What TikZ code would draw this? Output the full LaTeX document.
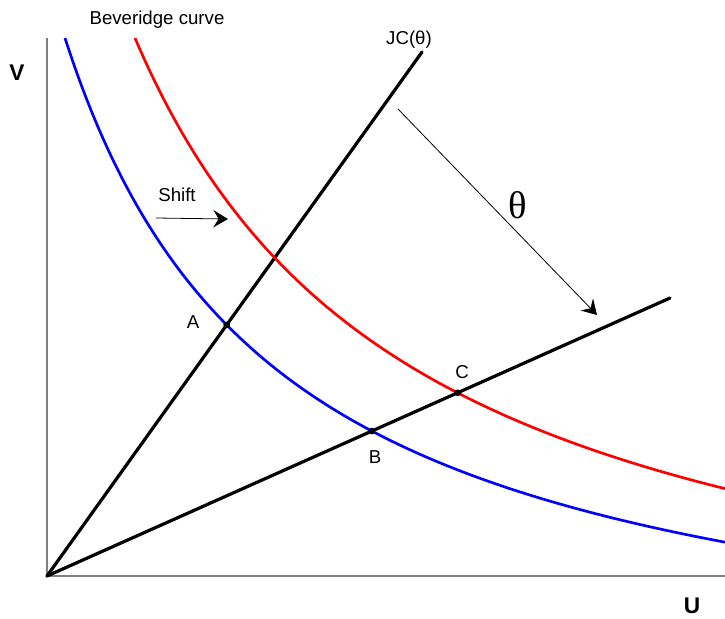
\documentclass[tikz,border=0pt]{standalone}
\usepackage{fontspec}
\setmainfont{Liberation Sans}
\newfontfamily\thetafont{Liberation Serif}
\usetikzlibrary{arrows.meta,intersections}

\definecolor{axisgray}{RGB}{128,128,128}

\tikzset{
    axis/.style={draw=axisgray, line width=1.5pt},
    ray/.style={line width=2.4pt, line cap=round},
    beveridge/.style={line width=2pt},
    thinarrow/.style={line width=0.6pt, -{Stealth[length=11pt,width=13pt,inset=4pt]}},
    dot/.style={circle, fill=black, inner sep=0pt, minimum size=5pt},
    lbl/.style={font=\fontsize{14}{16}\selectfont, inner sep=0pt},
    axlbl/.style={font=\fontsize{17}{20}\selectfont\bfseries, inner sep=0pt},
}

\begin{document}
\begin{tikzpicture}[x=0.75pt, y=-0.75pt]
    \useasboundingbox (0,0) rectangle (725,618);
    
    % axes
    \coordinate (O) at (47,576);
    \coordinate (vtop) at (47,38);
    \coordinate (uend) at (725,576);
    \draw[axis] (vtop) |- (uend);
    
    % job creation lines
    \coordinate (jcend) at (422,52);
    \coordinate (lowend) at (670,298);
    \draw[ray, name path=jc] (O) -- (jcend);
    \draw[ray, name path=low] (O) -- (lowend);
    
    % Beveridge curves
    \draw[beveridge, blue, name path=bluecurve]
        plot[domain=65:725, samples=120, smooth] (\x, {706.4-1437/((\x+150)/100)});
    \draw[beveridge, red, name path=redcurve]
        plot[domain=135:725, samples=120, smooth] (\x, {706.3-1904.51/((\x+150)/100)});
    
    % equilibria
    \path[name intersections={of=jc and bluecurve, by=A}];
    \path[name intersections={of=low and bluecurve, by=B}];
    \path[name intersections={of=low and redcurve, by=C}];
    \node[dot] (dotA) at (A) {};
    \node[dot] (dotB) at (B) {};
    \node[dot] (dotC) at (C) {};
    
    % arrows
    \coordinate (shiftstart) at (156,218);
    \coordinate (shiftend) at (228,219);
    \draw[thinarrow] (shiftstart) -- (shiftend);
    \coordinate (thetastart) at (398,109);
    \coordinate (thetaend) at (597,315);
    \draw[thinarrow] (thetastart) -- (thetaend);
    
    % labels
    \node[lbl] (labBev) at (157,20) {Beveridge curve};
    \node[lbl] (labJC) at (409,40) {JC(θ)};
    \node[lbl] (labShift) at (177,195) {Shift};
    \node[lbl] (labA) at (193,322) {A};
    \node[lbl] (labB) at (375,457) {B};
    \node[lbl] (labC) at (462,372) {C};
    \node[axlbl] (labV) at (17,73) {V};
    \node[axlbl] (labU) at (692,606) {U};
    \node[inner sep=0pt, font=\thetafont\fontsize{29}{30}\selectfont] (labTheta) at (518,205) {θ};
    
\end{tikzpicture}
\end{document}
